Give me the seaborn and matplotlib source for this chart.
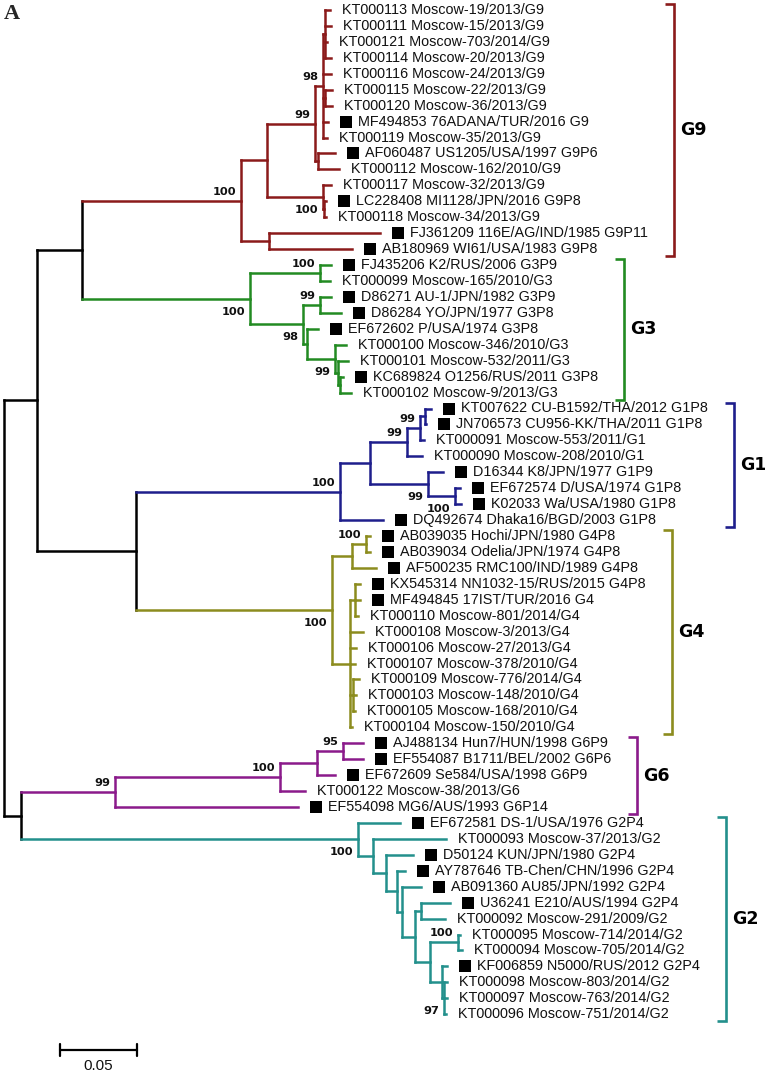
import matplotlib
matplotlib.use("Agg")
import matplotlib.pyplot as plt
import numpy as np
import pandas as pd
import seaborn as sns

# ---------------- data ----------------
tip_labels = [
    "KT000113 Moscow-19/2013/G9", "KT000111 Moscow-15/2013/G9", "KT000121 Moscow-703/2014/G9",
    "KT000114 Moscow-20/2013/G9", "KT000116 Moscow-24/2013/G9", "KT000115 Moscow-22/2013/G9",
    "KT000120 Moscow-36/2013/G9", "MF494853 76ADANA/TUR/2016 G9", "KT000119 Moscow-35/2013/G9",
    "AF060487 US1205/USA/1997 G9P6", "KT000112 Moscow-162/2010/G9", "KT000117 Moscow-32/2013/G9",
    "LC228408 MI1128/JPN/2016 G9P8", "KT000118 Moscow-34/2013/G9", "FJ361209 116E/AG/IND/1985 G9P11",
    "AB180969 WI61/USA/1983 G9P8",
    "FJ435206 K2/RUS/2006 G3P9", "KT000099 Moscow-165/2010/G3", "D86271 AU-1/JPN/1982 G3P9",
    "D86284 YO/JPN/1977 G3P8", "EF672602 P/USA/1974 G3P8", "KT000100 Moscow-346/2010/G3",
    "KT000101 Moscow-532/2011/G3", "KC689824 O1256/RUS/2011 G3P8", "KT000102 Moscow-9/2013/G3",
    "KT007622 CU-B1592/THA/2012 G1P8", "JN706573 CU956-KK/THA/2011 G1P8", "KT000091 Moscow-553/2011/G1",
    "KT000090 Moscow-208/2010/G1", "D16344 K8/JPN/1977 G1P9", "EF672574 D/USA/1974 G1P8",
    "K02033 Wa/USA/1980 G1P8", "DQ492674 Dhaka16/BGD/2003 G1P8",
    "AB039035 Hochi/JPN/1980 G4P8", "AB039034 Odelia/JPN/1974 G4P8", "AF500235 RMC100/IND/1989 G4P8",
    "KX545314 NN1032-15/RUS/2015 G4P8", "MF494845 17IST/TUR/2016 G4", "KT000110 Moscow-801/2014/G4",
    "KT000108 Moscow-3/2013/G4", "KT000106 Moscow-27/2013/G4", "KT000107 Moscow-378/2010/G4",
    "KT000109 Moscow-776/2014/G4", "KT000103 Moscow-148/2010/G4", "KT000105 Moscow-168/2010/G4",
    "KT000104 Moscow-150/2010/G4",
    "AJ488134 Hun7/HUN/1998 G6P9", "EF554087 B1711/BEL/2002 G6P6", "EF672609 Se584/USA/1998 G6P9",
    "KT000122 Moscow-38/2013/G6", "EF554098 MG6/AUS/1993 G6P14",
    "EF672581 DS-1/USA/1976 G2P4", "KT000093 Moscow-37/2013/G2", "D50124 KUN/JPN/1980 G2P4",
    "AY787646 TB-Chen/CHN/1996 G2P4", "AB091360 AU85/JPN/1992 G2P4", "U36241 E210/AUS/1994 G2P4",
    "KT000092 Moscow-291/2009/G2", "KT000095 Moscow-714/2014/G2", "KT000094 Moscow-705/2014/G2",
    "KF006859 N5000/RUS/2012 G2P4", "KT000098 Moscow-803/2014/G2", "KT000097 Moscow-763/2014/G2",
    "KT000096 Moscow-751/2014/G2",
]

# distance from root of each tip (substitutions/site)
tip_depth = [
    0.2131, 0.2137, 0.2111, 0.2137, 0.2137, 0.2144, 0.2144, 0.2118, 0.2111,
    0.2163, 0.2190, 0.2137, 0.2105, 0.2105, 0.2458, 0.2275,
    0.2137, 0.2131, 0.2137, 0.2203, 0.2052, 0.2235, 0.2248, 0.2216, 0.2268,
    0.2791, 0.2758, 0.2745, 0.2732, 0.2869, 0.2980, 0.2987, 0.2477,
    0.2392, 0.2392, 0.2431, 0.2327, 0.2327, 0.2314, 0.2346, 0.2301, 0.2294,
    0.2320, 0.2301, 0.2294, 0.2275,
    0.2346, 0.2346, 0.2163, 0.1967, 0.1922,
    0.2588, 0.2889, 0.2673, 0.2621, 0.2725, 0.2915, 0.2882, 0.2980, 0.2993,
    0.2895, 0.2895, 0.2895, 0.2889,
]

node_names = [
    "root", "A", "B", "AB", "CD",
    "G9root", "G9a", "G9b", "G9c", "P98", "R1", "R2", "G9e", "G9d", "G9d2",
    "G3root", "G3a", "G3b", "G3c", "G3d", "G3e", "G3f", "G3g",
    "G1root", "G1a", "G1b", "G1c", "G1d", "G1e", "G1f",
    "G4root", "G4a", "G4c", "G4b", "G4d", "G4f",
    "G6root", "G6a", "G6b", "G6c",
    "G2root", "G2a", "G2b", "G2c", "G2d", "G2e", "G2f", "G2g", "G2h", "G2i", "G2j",
]
node_children = [
    ["A", "B"], ["AB", "CD"], ["G6root", "G2root"], ["G9root", "G3root"], ["G1root", "G4root"],
    ["G9a", "G9b"], ["G9c", "G9d"], [14, 15], ["P98", "G9e"], ["R1", 4, "R2", 7, 8],
    [0, 1, 2, 3], [5, 6], [9, 10], [11, "G9d2"], [12, 13],
    ["G3a", "G3b"], [16, 17], ["G3c", "G3d"], [18, 19], [20, "G3e"], [21, "G3f"], [22, "G3g"], [23, 24],
    ["G1a", 32], ["G1b", "G1e"], ["G1c", 28], ["G1d", 27], [25, 26], [29, "G1f"], [30, 31],
    ["G4a", "G4b"], ["G4c", 35], [33, 34], ["G4d", 39, 40, 41, "G4f", 45], [36, 37, 38], [42, 43, 44],
    ["G6a", 50], ["G6b", 49], ["G6c", 48], [46, 47],
    [51, "G2a"], [52, "G2b"], [53, "G2c"], [54, "G2d"], [55, "G2e"], ["G2f", "G2g"], [56, 57],
    ["G2h", "G2i"], [58, 59], [60, "G2j"], [61, 62, 63],
]
node_depth = [
    0.0, 0.0216, 0.0111, 0.0510, 0.0863,
    0.1549, 0.1719, 0.1732, 0.2033, 0.2085, 0.2098, 0.2098, 0.2052, 0.2085, 0.2092,
    0.1608, 0.2065, 0.1954, 0.2065, 0.1980, 0.2163, 0.2183, 0.2196,
    0.2196, 0.2392, 0.2634, 0.2719, 0.2752, 0.2771, 0.2948,
    0.2144, 0.2275, 0.2366, 0.2261, 0.2294, 0.2281,
    0.0725, 0.1804, 0.2046, 0.2216,
    0.2314, 0.2412, 0.2497, 0.2569, 0.2601, 0.2686, 0.2725, 0.2784, 0.2967, 0.2863, 0.2876,
]

support_nodes = ["G9root", "G9c", "P98", "G9d", "G3root", "G3a", "G3c", "G3b", "G3e",
                 "G1root", "G1b", "G1c", "G1e", "G1f", "G4root", "G4c",
                 "G6root", "G6a", "G6c", "G2root", "G2h", "G2j"]
support_values = [100, 99, 98, 100, 100, 100, 99, 98, 99,
                  100, 99, 99, 99, 100, 100, 100,
                  99, 100, 95, 100, 100, 97]

group_names = ["G9", "G3", "G1", "G4", "G6", "G2"]
group_roots = ["G9root", "G3root", "G1root", "G4root", "G6root", "G2root"]
group_rows = [(0, 15), (16, 24), (25, 32), (33, 45), (46, 50), (51, 63)]
scale_bar_length = 0.05

# ---------------- styling ----------------
palette = {"backbone": "#000000", "G9": "#8B1A1A", "G3": "#228B22", "G1": "#1E1E8C",
           "G4": "#8C8C1E", "G6": "#8B1A8B", "G2": "#23908C"}

W, H, DPI = 7.65, 10.75, 100
PXU = 1530.0          # pixels per distance unit
X0 = 4.0              # pixel x of root
ROW0, ROWH = 10.0, 15.94

sns.set_theme(style="white")
plt.rcParams["font.family"] = ["Liberation Sans", "DejaVu Sans"]

fig = plt.figure(figsize=(W, H), dpi=DPI)
ax = fig.add_axes([0, 0, 1, 1])
ax.set_xlim(-X0 / PXU, (W * DPI - X0) / PXU)
ax.set_ylim((H * DPI - ROW0) / ROWH, -ROW0 / ROWH)
ax.axis("off")

def px(v):
    return v / PXU

# ---------------- tree layout ----------------
children = dict(zip(node_names, node_children))
depth = {i: d for i, d in enumerate(tip_depth)}
depth.update(dict(zip(node_names, node_depth)))
ypos = {}

def lay(n):
    if isinstance(n, int):
        ypos[n] = float(n)
        return ypos[n]
    ys = [lay(c) for c in children[n]]
    ypos[n] = (ys[0] + ys[-1]) / 2.0
    return ypos[n]

lay("root")
parent = {c: p for p, cs in children.items() for c in cs}

clade = {}
def mark(n, g):
    clade[n] = g
    if not isinstance(n, int):
        for c in children[n]:
            mark(c, g)

mark("root", "backbone")
for g, r in zip(group_names, group_roots):
    mark(r, g)

rows = []
sid = 0
for n in node_names:
    ch = children[n]
    xn = depth[n]
    rows.append((sid, xn, ypos[ch[0]], clade[n]))
    rows.append((sid, xn, ypos[ch[-1]], clade[n]))
    sid += 1
    for c in ch:
        rows.append((sid, xn, ypos[c], clade[c]))
        rows.append((sid, depth[c], ypos[c], clade[c]))
        sid += 1
seg = pd.DataFrame(rows, columns=["seg", "x", "y", "clade"])

sns.lineplot(data=seg, x="x", y="y", units="seg", estimator=None, hue="clade",
             palette=palette, sort=False, legend=False, linewidth=1.8,
             solid_capstyle="projecting", ax=ax)

# ---------------- tips ----------------
tips = pd.DataFrame({"label": tip_labels, "depth": tip_depth, "row": np.arange(len(tip_labels))})
tips["square"] = ~tips["label"].str.contains("Moscow")
sq = tips[tips["square"]]
sns.scatterplot(x=sq["depth"] + px(18), y=sq["row"], marker="s", s=64, color="black",
                linewidth=0, ax=ax, legend=False)

text_objs = []
for _, t in tips.iterrows():
    off = 30 if t["square"] else 12
    txt = ax.text(t["depth"] + px(off), t["row"], t["label"], fontsize=10.4,
                  ha="left", va="center", color="#111111")
    text_objs.append(txt)

# ---------------- bootstrap values ----------------
for n, v in zip(support_nodes, support_values):
    p = parent[n]
    above = children[p][0] == n
    dy = -9 if above else 13
    ax.annotate(str(v), (depth[n], ypos[n]), xytext=(-5 * 0.72, -dy * 0.72),
                textcoords="offset points", ha="right", va="center",
                fontsize=8.2, fontweight="bold", family="DejaVu Sans", color="#111111")

# ---------------- clade brackets ----------------
fig.canvas.draw()
renderer = fig.canvas.get_renderer()
for g, (r0, r1) in zip(group_names, group_rows):
    xmax_px = max(text_objs[i].get_window_extent(renderer).x1 for i in range(r0, r1 + 1))
    bx = px(xmax_px + 26 - X0)
    y0 = r0 - 6 / ROWH
    y1 = r1 + 7 / ROWH
    ax.plot([bx - px(9), bx, bx, bx - px(9)], [y0, y0, y1, y1], color=palette[g],
            linewidth=1.9, solid_joinstyle="miter", solid_capstyle="butt")
    ax.text(bx + px(6), (y0 + y1) / 2, g, fontsize=12.5, fontweight="bold",
            family="DejaVu Sans", ha="left", va="center", color="black")

# ---------------- scale bar ----------------
sb_x0 = px(60 - X0)
sb_y = (1050 - ROW0) / ROWH
tick = 6 / ROWH
ax.plot([sb_x0, sb_x0 + scale_bar_length], [sb_y, sb_y], color="black", linewidth=1.6)
ax.plot([sb_x0, sb_x0], [sb_y - tick, sb_y + tick], color="black", linewidth=1.6)
ax.plot([sb_x0 + scale_bar_length] * 2, [sb_y - tick, sb_y + tick], color="black", linewidth=1.6)
ax.text(sb_x0 + scale_bar_length / 2, sb_y + 16 / ROWH, f"{scale_bar_length:.2f}",
        fontsize=11, ha="center", va="center", color="#111111")

# panel letter
fig.text(4 / (W * DPI), 1 - 14 / (H * DPI), "A", fontsize=16, fontweight="bold",
         family="Liberation Serif", ha="left", va="center")

fig.savefig("out.png", dpi=DPI, facecolor="white")
